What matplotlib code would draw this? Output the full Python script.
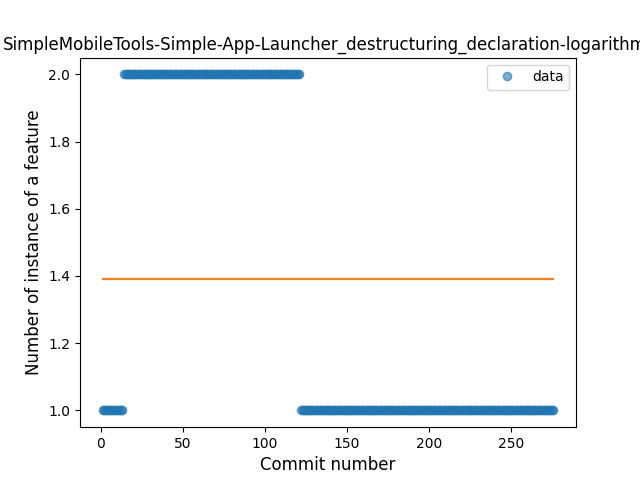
import matplotlib
matplotlib.use("Agg")
import matplotlib.pyplot as plt

# commit ranges and the feature count in each
segment_starts = [1, 14, 122]
segment_ends = [13, 121, 276]
segment_values = [1, 2, 1]

fit_value = 1.39
title = "SimpleMobileTools-Simple-App-Launcher_destructuring_declaration-logarithmic"

commits = []
counts = []
for start, end, value in zip(segment_starts, segment_ends, segment_values):
    for c in range(start, end + 1):
        commits.append(c)
        counts.append(value)

fig = plt.figure(figsize=(6.4, 4.8), dpi=100)
plt.plot(commits, counts, "o", alpha=0.6, label="data")
plt.plot([commits[0], commits[-1]], [fit_value, fit_value])
# title is wider than the figure, so it gets clipped at both sides
plt.title(title, x=0.507)
plt.xlabel("Commit number", fontsize=12)
plt.ylabel("Number of instance of a feature", fontsize=12)
plt.legend(loc="upper right")
plt.savefig("out.png")
